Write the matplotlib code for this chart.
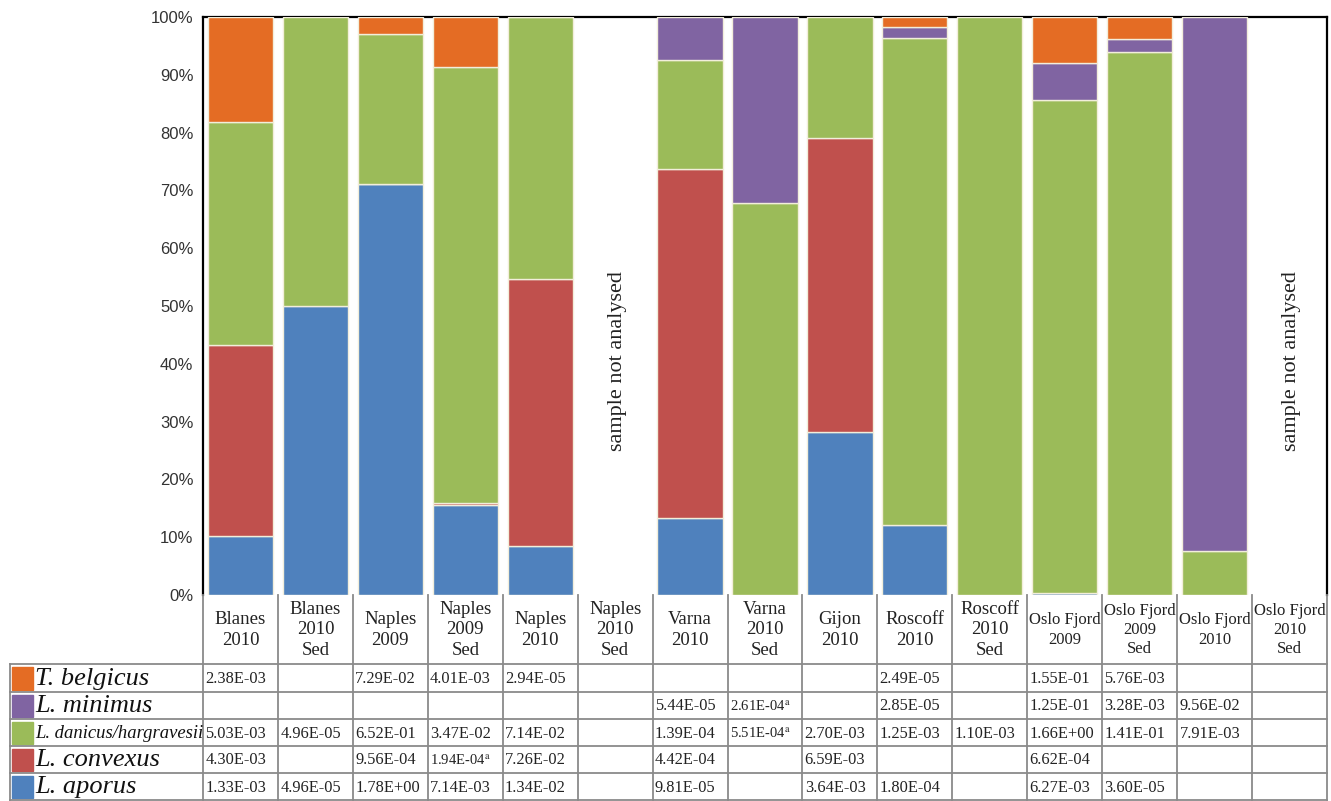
import matplotlib.pyplot as plt
from matplotlib.patches import Rectangle
import numpy as np

plt.rcParams['mathtext.fontset'] = 'stix'

# sites (table columns)
sites = ['Blanes\n2010', 'Blanes\n2010\nSed', 'Naples\n2009', 'Naples\n2009\nSed',
         'Naples\n2010', 'Naples\n2010\nSed', 'Varna\n2010', 'Varna\n2010\nSed',
         'Gijon\n2010', 'Roscoff\n2010', 'Roscoff\n2010\nSed', 'Oslo Fjord\n2009',
         'Oslo Fjord\n2009\nSed', 'Oslo Fjord\n2010', 'Oslo Fjord\n2010\nSed']

# table values, 'a' = footnote
belgicus = ['2.38E-03', '', '7.29E-02', '4.01E-03', '2.94E-05', '', '', '', '',
            '2.49E-05', '', '1.55E-01', '5.76E-03', '', '']
minimus = ['', '', '', '', '', '', '5.44E-05', '2.61E-04a', '', '2.85E-05', '',
           '1.25E-01', '3.28E-03', '9.56E-02', '']
danicus = ['5.03E-03', '4.96E-05', '6.52E-01', '3.47E-02', '7.14E-02', '', '1.39E-04',
           '5.51E-04a', '2.70E-03', '1.25E-03', '1.10E-03', '1.66E+00', '1.41E-01',
           '7.91E-03', '']
convexus = ['4.30E-03', '', '9.56E-04', '1.94E-04a', '7.26E-02', '', '4.42E-04', '',
            '6.59E-03', '', '', '6.62E-04', '', '', '']
aporus = ['1.33E-03', '4.96E-05', '1.78E+00', '7.14E-03', '1.34E-02', '', '9.81E-05', '',
          '3.64E-03', '1.80E-04', '', '6.27E-03', '3.60E-05', '', '']

species = ['T. belgicus', 'L. minimus', 'L. danicus/hargravesii', 'L. convexus', 'L. aporus']
table_rows = [belgicus, minimus, danicus, convexus, aporus]
colors = ['#E46C24', '#8064A2', '#9BBB59', '#C0504D', '#4F81BD']
not_analysed = [5, 14]


def to_num(s):
    if s == '':
        return 0.0
    return float(s.rstrip('a'))


W, H = 1331, 801
fig = plt.figure(figsize=(W / 100, H / 100), dpi=100)

# ---- stacked bars ----
ax = fig.add_axes([203 / W, (H - 595) / H, 1124 / W, 578 / H])
n = len(sites)
x = np.arange(n) + 0.5
vals = np.array([[to_num(s) for s in r] for r in table_rows])
tot = vals.sum(axis=0)
tot[tot == 0] = 1
pct = vals / tot * 100

bottom = np.zeros(n)
for k in [4, 3, 2, 1, 0]:
    h = pct[k]
    m = h > 0
    ax.bar(x[m], h[m], width=0.87, bottom=bottom[m], color=colors[k],
           edgecolor='#f2eedb', linewidth=1.0, zorder=3)
    bottom = bottom + h

for i in not_analysed:
    ax.text(x[i] + 0.03, 40.5, 'sample not analysed', rotation=90, ha='center', va='center',
            fontsize=16, family='Liberation Serif', color='#222222')

ax.set_xlim(0, n)
ax.set_ylim(0, 100)
ax.set_xticks([])
ax.set_yticks(range(0, 101, 10))
ax.set_yticklabels([f'{v}%' for v in range(0, 101, 10)], family='Liberation Sans',
                   fontsize=12, color='#333333')
ax.tick_params(axis='y', length=0, pad=7)
ax.spines['bottom'].set_visible(False)
for s in ['left', 'right', 'top']:
    ax.spines[s].set_linewidth(1.6)
    ax.spines[s].set_color('black')
    ax.spines[s].set_zorder(2)

# ---- data table ----
tab = fig.add_axes([10 / W, 0, 1317 / W, 206 / H])
lx = -(203 - 10) / 74.93
tab.set_xlim(lx, n)
tab.set_ylim(206, 0)
tab.axis('off')
ybounds = [69, 97, 124, 151, 178, 205]
gc = '#8a8a8a'
for i in range(n + 1):
    tab.plot([i, i], [0, 205], color=gc, lw=1.3, clip_on=False)
tab.plot([lx, lx], [69, 205], color=gc, lw=1.3, clip_on=False)
for yb in ybounds:
    tab.plot([lx, n], [yb, yb], color=gc, lw=1.3, clip_on=False)

for i, name in enumerate(sites):
    fs = 12 if name.startswith('Oslo') else 13.5
    tab.text(i + 0.5, 35, name, ha='center', va='center', fontsize=fs,
             family='Liberation Serif', linespacing=1.25, color='#222222')

for r, row in enumerate(table_rows):
    yc = (ybounds[r] + ybounds[r + 1]) / 2
    for i, s in enumerate(row):
        if s == '':
            continue
        if s.endswith('a'):
            tab.text(i + 0.03, yc + 1, s[:-1] + r'$^{\mathrm{a}}$', ha='left', va='center',
                     fontsize=10.5, family='Liberation Serif', color='#222222')
        else:
            tab.text(i + 0.03, yc + 1, s, ha='left', va='center', fontsize=11.8,
                     family='Liberation Serif', color='#222222')
    tab.add_patch(Rectangle((lx + 2 / 74.93, ybounds[r] + 3), 21 / 74.93,
                            ybounds[r + 1] - ybounds[r] - 5, color=colors[r]))
    fs = 13.4 if 'danicus' in species[r] else 19
    tab.text(lx + 25 / 74.93, yc + 1, species[r], ha='left', va='center', fontsize=fs,
             family='Liberation Serif', style='italic', color='#111111')

fig.savefig('out.png', dpi=100)
